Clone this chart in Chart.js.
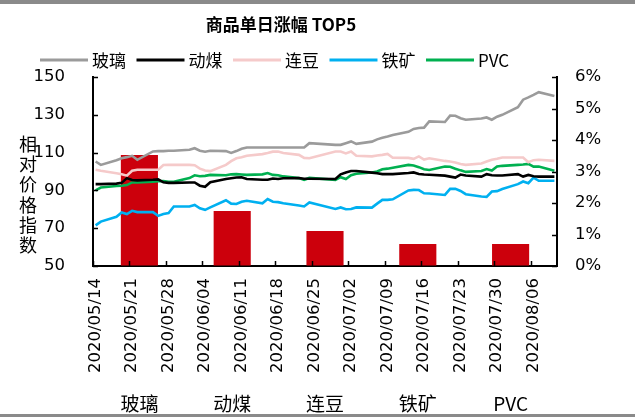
<!DOCTYPE html>
<html>
<head>
<meta charset="utf-8">
<script src="https://cdn.jsdelivr.net/npm/chart.js@4.4.1/dist/chart.umd.min.js"></script>
<style>
html,body{margin:0;padding:0;background:#fff;}
#wrap{width:635px;height:417px;position:relative;}
</style>
</head>
<body>
<div id="wrap"><canvas id="c" width="635" height="417"></canvas></div>
<script>
// ---------- data ----------
const chartTitle = '商品单日涨幅 TOP5';
const yAxisTitle = '相对价格指数';
const seriesNames = ['玻璃', '动煤', '连豆', '铁矿', 'PVC'];

const dates = ['2020/05/14','2020/05/15','2020/05/18','2020/05/19','2020/05/20','2020/05/21','2020/05/22','2020/05/25','2020/05/26','2020/05/27','2020/05/28','2020/05/29',
'2020/06/01','2020/06/02','2020/06/03','2020/06/04','2020/06/05','2020/06/08','2020/06/09','2020/06/10','2020/06/11','2020/06/12','2020/06/15','2020/06/16','2020/06/17','2020/06/18','2020/06/19','2020/06/22','2020/06/23','2020/06/24','2020/06/29','2020/06/30',
'2020/07/01','2020/07/02','2020/07/03','2020/07/06','2020/07/07','2020/07/08','2020/07/09','2020/07/10','2020/07/13','2020/07/14','2020/07/15','2020/07/16','2020/07/17','2020/07/20','2020/07/21','2020/07/22','2020/07/23','2020/07/24','2020/07/27','2020/07/28','2020/07/29','2020/07/30','2020/07/31',
'2020/08/03','2020/08/04','2020/08/05','2020/08/06','2020/08/07','2020/08/10'];

const glass = [105.3,103.5,106,107,107.6,108.3,106.2,110.6,110.8,110.8,111,111,
111.5,112.3,111,110.5,111,110.8,109.8,110.8,112,112.7,112.7,112.7,112.7,112.7,112.7,112.7,112.7,115,114.1,114.1,
115,115.9,114.6,115.8,117,117.8,118.5,119.3,121,122.5,123,123.2,126.5,126.2,129.6,129.5,128.2,127.4,128,128.6,127.4,129,130,
134,138,139.2,140.5,142,140];

const coal = [93.3,93.3,93.6,94,96.5,95.5,95.3,95.6,95.8,94.3,94,94,
94.2,94.2,92.5,91.9,94.3,96,96.4,96.8,96.9,96,95.6,95.6,96.3,96,96.4,96.5,96.2,96.2,96,98.5,
99.5,100.3,100.3,99.4,99.1,98.6,98.6,98.6,99.2,99.5,98.7,98.4,98.3,97.8,97.3,96.8,98.4,97.9,97.3,98.6,98,97.9,97.9,
98.6,97.3,98.2,97.5,97.3,97.3];

const soybean = [100.9,100.4,99.1,98.6,97.8,100.4,100.9,100.9,100.9,103.4,103.5,103.5,
103.5,103.3,101.5,100.5,100.2,103.5,105.5,107,107.5,108.3,109.2,109.8,110.5,110.6,109.8,108.8,107.2,107,110.6,110.6,
109.6,110.6,108.3,108,108.5,108.8,109.3,107.3,107.2,106.7,108,106.3,107,105.6,105.3,104.8,104,103.5,104.2,105.3,106.2,106.7,107.4,
107.4,107.4,104.9,106,106.2,105.6];

const ironOre = [71.5,73.5,76,78.3,77.5,79.2,78.5,78.5,76.5,77.5,78,81.5,
81.5,82.3,80.5,79.7,81,84.8,83,82.8,84,84.5,83.2,85.4,84,83.8,83.2,82,81.5,83.6,80.2,81,
80,80.2,81,80.9,83,85,85,85.3,90,90.3,90.2,88.5,88.4,87.6,90.8,90.8,89.7,88,86.8,86.6,89.4,89.6,90.7,
93.3,94.7,93.8,96.8,95.1,95.1];

const pvc = [90,91.5,92.3,92.5,92.8,94.2,94.2,94.6,94.8,95,94.6,94.6,
96.5,98,97.5,97.7,98.2,98,98.5,98.6,98.4,98.2,98.5,99.2,98.2,98,97.4,96.5,95.6,96.6,95.6,97,
96,98,98.8,99.5,100,101.2,101.5,102,103.5,103.2,102.3,101.2,100.8,102.6,102.5,101.5,100.6,99.8,100.3,101.3,100.5,102.6,103,
103.5,103.7,104,102.6,102.6,100.4];

const barCategories = ['玻璃', '动煤', '连豆', '铁矿', 'PVC'];
const barValues = [3.52, 1.75, 1.11, 0.70, 0.70];

const dateTicks = ['2020/05/14','2020/05/21','2020/05/28','2020/06/04','2020/06/11','2020/06/18','2020/06/25','2020/07/02','2020/07/09','2020/07/16','2020/07/23','2020/07/30','2020/08/06'];
const leftTicks = [50, 70, 90, 110, 130, 150];
const rightTicks = [0, 1, 2, 3, 4, 5, 6];

// ---------- helpers ----------
const DAY = 86400000;
function toUTC(s){ const p = s.split('/').map(Number); return Date.UTC(p[0], p[1]-1, p[2]); }
const t0 = toUTC(dates[0]);
function dayOf(s){ return Math.round((toUTC(s) - t0) / DAY); }
const lastDay = dayOf(dates[dates.length-1]);

const seriesColors = ['#9b9b9b', '#000000', '#f5caca', '#00b0f0', '#00b050'];
const seriesData = [glass, coal, soybean, ironOre, pvc];

const lineSets = seriesData.map((arr, i) => ({
  type: 'line',
  label: seriesNames[i],
  data: arr.map((v, j) => ({x: dayOf(dates[j]), y: v})),
  borderColor: seriesColors[i],
  backgroundColor: seriesColors[i],
  borderWidth: 2.6,
  pointRadius: 0,
  tension: 0,
  xAxisID: 'x',
  yAxisID: 'y',
  order: 1
}));

const barSet = {
  type: 'bar',
  label: '单日涨幅',
  data: barValues,
  backgroundColor: '#cc000c',
  borderWidth: 0,
  xAxisID: 'xb',
  yAxisID: 'y1',
  grouped: false,
  barPercentage: 0.4,
  categoryPercentage: 1,
  order: 2
};

// ---------- plugins ----------
const framePlugin = {
  id: 'frame',
  beforeDraw(chart){
    const ctx = chart.ctx;
    ctx.save();
    ctx.fillStyle = '#ffffff';
    ctx.fillRect(0, 0, chart.width, chart.height);
    ctx.fillStyle = '#8a8a8a';
    ctx.fillRect(0, 0, chart.width, 4);
    ctx.fillRect(0, chart.height - 3, chart.width, 3);
    ctx.restore();
  }
};

const shiftPlugin = {
  id: 'shift',
  afterLayout(chart){
    const t = chart.titleBlock;
    if (t) { t.right = 2 * 281 - t.left; }
  }
};

const legendPlugin = {
  id: 'lineLegend',
  afterDraw(chart){
    const ctx = chart.ctx;
    ctx.save();
    ctx.font = '17px "Noto Sans CJK SC"';
    ctx.textBaseline = 'middle';
    ctx.textAlign = 'left';
    let x = 40;
    const y = 60;
    chart.data.datasets.filter(d => d.type === 'line').forEach(d => {
      ctx.strokeStyle = d.borderColor;
      ctx.lineWidth = 3;
      ctx.beginPath();
      ctx.moveTo(x, y);
      ctx.lineTo(x + 48, y);
      ctx.stroke();
      ctx.fillStyle = '#000';
      ctx.fillText(d.label, x + 52, y + 1);
      x += 52 + ctx.measureText(d.label).width + 10.5;
    });
    ctx.restore();
  }
};

const ticksPlugin = {
  id: 'inwardTicks',
  afterDatasetsDraw(chart){
    const {ctx, chartArea: a, scales} = chart;
    ctx.save();
    ctx.strokeStyle = '#000';
    ctx.lineWidth = 1.5;
    ctx.beginPath();
    scales.y.ticks.forEach(t => { const y = Math.round(scales.y.getPixelForValue(t.value)) + 0.5; ctx.moveTo(a.left, y); ctx.lineTo(a.left + 5, y); });
    scales.y1.ticks.forEach(t => { const y = Math.round(scales.y1.getPixelForValue(t.value)) + 0.5; ctx.moveTo(a.right, y); ctx.lineTo(a.right - 5, y); });
    dateTicks.forEach(d => { const x = Math.round(scales.x.getPixelForValue(dayOf(d) - 0.5)) + 0.5; ctx.moveTo(x, a.bottom); ctx.lineTo(x, a.bottom - 5); });
    ctx.stroke();
    ctx.restore();
  }
};

const yTitlePlugin = {
  id: 'yTitle',
  afterDraw(chart){
    const ctx = chart.ctx;
    ctx.save();
    ctx.font = '18px "Noto Sans CJK SC"';
    ctx.fillStyle = '#000';
    ctx.textAlign = 'center';
    ctx.textBaseline = 'middle';
    Array.from(yAxisTitle).forEach((ch, i) => ctx.fillText(ch, 28, 144 + i * 20.3));
    ctx.restore();
  }
};

// ---------- chart ----------
Chart.defaults.color = '#000';
Chart.defaults.font.family = '"Noto Sans CJK SC", sans-serif';

const numFont = {family: '"DejaVu Sans"', size: 16.5};
const noPad = s => { s.paddingLeft = 0; s.paddingRight = 0; };

new Chart(document.getElementById('c'), {
  type: 'line',
  data: { datasets: [...lineSets, barSet] },
  options: {
    responsive: false,
    animation: false,
    devicePixelRatio: 1,
    layout: { padding: {top: 4, left: 33, right: 33, bottom: 2} },
    plugins: {
      title: {
        display: true,
        text: chartTitle,
        color: '#000',
        font: {family: '"Noto Sans CJK SC"', size: 17, weight: 'bold'},
        padding: {top: 10, bottom: 42.6}
      },
      legend: { display: false },
      tooltip: {enabled: false}
    },
    scales: {
      x: {
        type: 'linear',
        position: 'bottom',
        weight: 0,
        min: -0.5,
        max: lastDay + 0.5,
        afterBuildTicks: s => { s.ticks = dateTicks.map(d => ({value: dayOf(d)})); },
        afterFit: s => { noPad(s); s.height = 107; },
        ticks: {
          autoSkip: false, minRotation: 90, maxRotation: 90, padding: 12,
          font: numFont, color: '#000',
          callback: (v, i) => dateTicks[i]
        },
        grid: {display: true, drawOnChartArea: false, drawTicks: false},
        border: {display: true, color: '#000', width: 2}
      },
      xb: {
        type: 'category',
        labels: barCategories,
        position: 'bottom',
        weight: 1,
        offset: true,
        afterFit: s => { noPad(s); s.height = 42; },
        grid: {display: false, drawTicks: false},
        border: {display: false},
        ticks: {autoSkip: false, maxRotation: 0, padding: 19, color: '#000', font: {family: '"Noto Sans CJK SC"', size: 19}}
      },
      y: {
        type: 'linear',
        position: 'left',
        min: 50, max: 150,
        afterBuildTicks: s => { s.ticks = leftTicks.map(v => ({value: v})); },
        afterFit: s => { s.width = 60; },
        ticks: {padding: 28, font: numFont, color: '#000'},
        grid: {display: true, drawOnChartArea: false, drawTicks: false},
        border: {display: true, color: '#000', width: 2}
      },
      y1: {
        type: 'linear',
        position: 'right',
        min: 0, max: 6,
        afterBuildTicks: s => { s.ticks = rightTicks.map(v => ({value: v})); },
        afterFit: s => { s.width = 45; },
        ticks: {padding: 18, font: numFont, color: '#000', callback: v => v + '%'},
        grid: {display: true, drawOnChartArea: false, drawTicks: false},
        border: {display: true, color: '#000', width: 2}
      }
    }
  },
  plugins: [framePlugin, shiftPlugin, ticksPlugin, yTitlePlugin, legendPlugin]
});
</script>
</body>
</html>
